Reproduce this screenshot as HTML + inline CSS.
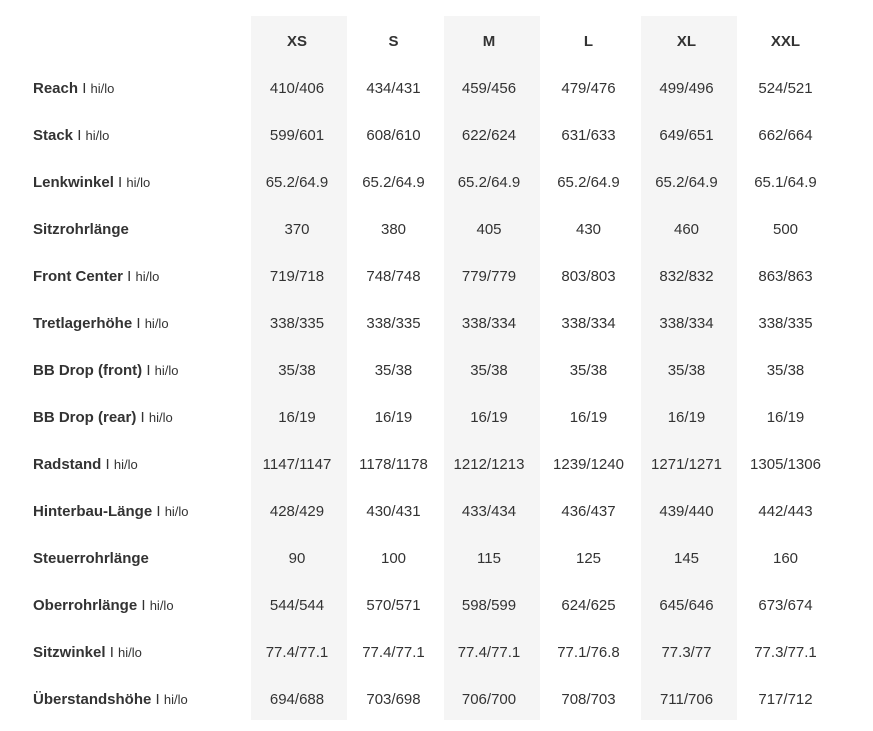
<!DOCTYPE html>
<html><head><meta charset="utf-8"><style>
html,body{margin:0;padding:0;background:#fff;}
body{width:873px;height:731px;position:relative;overflow:hidden;font-family:"Liberation Sans",Arial,sans-serif;color:#333;}
.bg{position:absolute;top:16px;height:704px;background:#f5f5f5;}
.c{position:absolute;width:120px;text-align:center;font-size:15px;line-height:20px;white-space:nowrap;}
.h{font-weight:bold;}
.l{position:absolute;left:33px;font-size:15px;line-height:20px;font-weight:bold;white-space:nowrap;}
.l .s{font-weight:normal;}
.l .t{font-weight:normal;font-size:13px;}
</style></head><body>
<div class="bg" style="left:251px;width:96px"></div>
<div class="bg" style="left:444px;width:96px"></div>
<div class="bg" style="left:641px;width:96px"></div>
<div id="g"></div>
<script>
var cx=[297,393.5,489,588.5,686.5,785.5];
var heads=["XS","S","M","L","XL","XXL"];
var rows=[
["Reach",1,["410/406","434/431","459/456","479/476","499/496","524/521"]],
["Stack",1,["599/601","608/610","622/624","631/633","649/651","662/664"]],
["Lenkwinkel",1,["65.2/64.9","65.2/64.9","65.2/64.9","65.2/64.9","65.2/64.9","65.1/64.9"]],
["Sitzrohrlänge",0,["370","380","405","430","460","500"]],
["Front Center",1,["719/718","748/748","779/779","803/803","832/832","863/863"]],
["Tretlagerhöhe",1,["338/335","338/335","338/334","338/334","338/334","338/335"]],
["BB Drop (front)",1,["35/38","35/38","35/38","35/38","35/38","35/38"]],
["BB Drop (rear)",1,["16/19","16/19","16/19","16/19","16/19","16/19"]],
["Radstand",1,["1147/1147","1178/1178","1212/1213","1239/1240","1271/1271","1305/1306"]],
["Hinterbau-Länge",1,["428/429","430/431","433/434","436/437","439/440","442/443"]],
["Steuerrohrlänge",0,["90","100","115","125","145","160"]],
["Oberrohrlänge",1,["544/544","570/571","598/599","624/625","645/646","673/674"]],
["Sitzwinkel",1,["77.4/77.1","77.4/77.1","77.4/77.1","77.1/76.8","77.3/77","77.3/77.1"]],
["Überstandshöhe",1,["694/688","703/698","706/700","708/703","711/706","717/712"]]
];
var h="";
for(var j=0;j<6;j++){h+='<div class="c h" style="left:'+(cx[j]-60)+'px;top:32px">'+heads[j]+'</div>';}
for(var i=0;i<rows.length;i++){
 var y=87+47*i-8;
 var r=rows[i];
 h+='<div class="l" style="top:'+y+'px">'+r[0]+(r[1]?' <span class="s">I</span> <span class="t">hi/lo</span>':'')+'</div>';
 for(var j=0;j<6;j++){h+='<div class="c" style="left:'+(cx[j]-60)+'px;top:'+y+'px">'+r[2][j]+'</div>';}
}
document.getElementById("g").innerHTML=h;
</script>
</body></html>
